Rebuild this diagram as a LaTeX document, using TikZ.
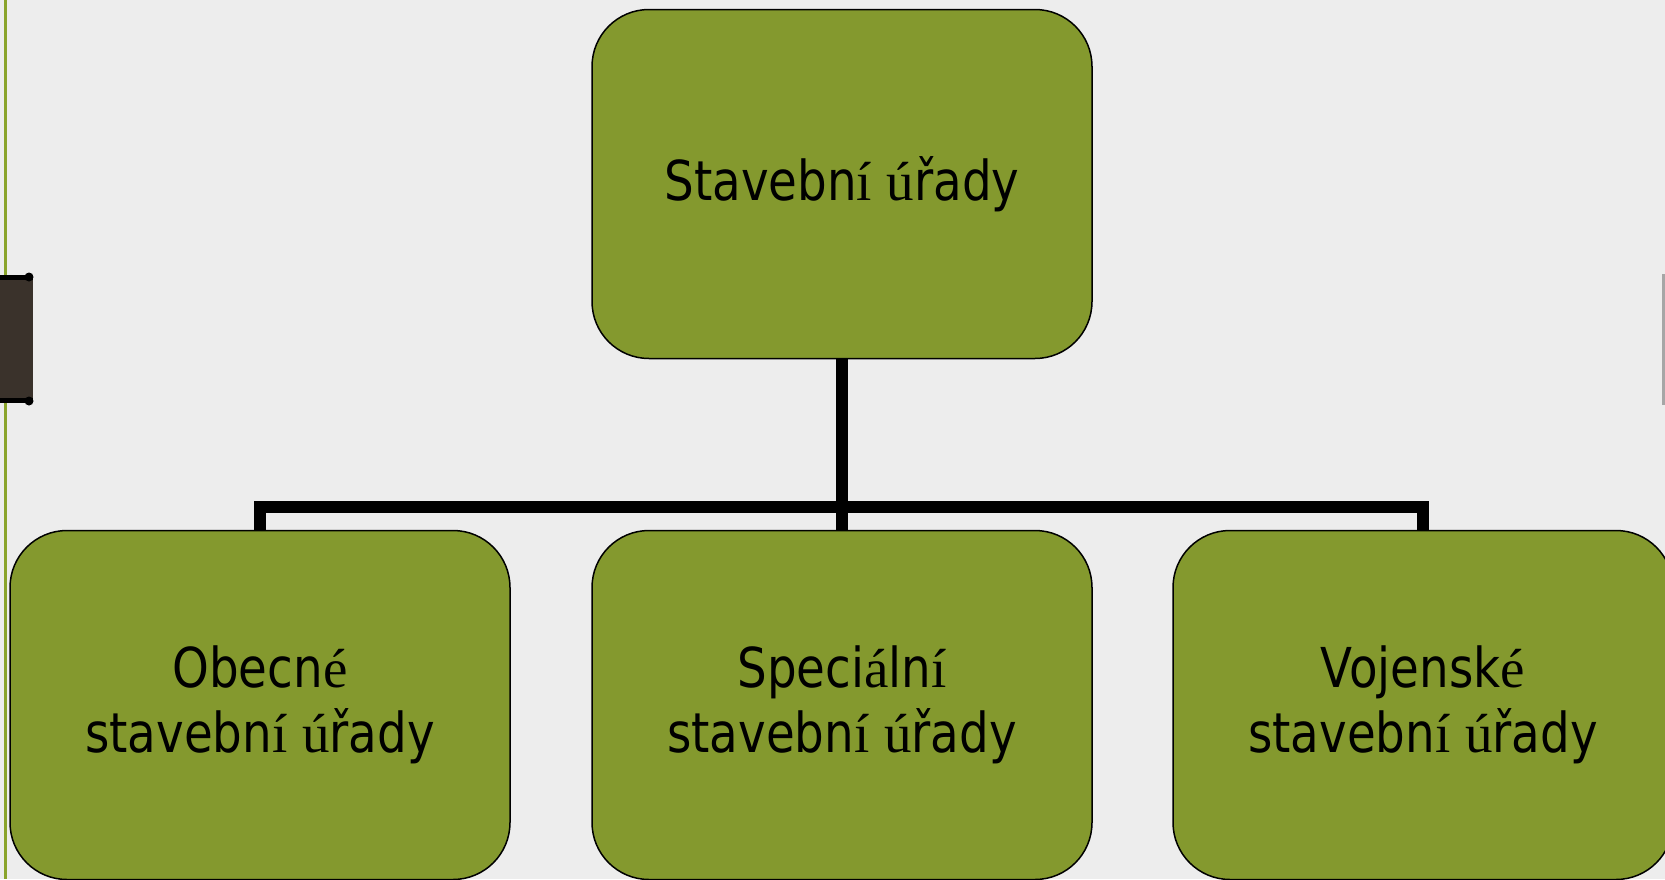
\documentclass[tikz,border=0pt]{standalone}
\usepackage{fontspec}
\setmainfont{DejaVu Sans}[FakeStretch=0.85]
\newfontfamily\accfont{Liberation Serif}
\newcommand\ac[1]{{\accfont #1}}
\definecolor{boxgreen}{RGB}{132,153,46}
\definecolor{bggray}{RGB}{237,237,237}
\definecolor{stripegreen}{RGB}{138,164,44}
\definecolor{tabbrown}{RGB}{58,50,43}
\begin{document}
\begin{tikzpicture}[x=1pt,y=-1pt,
  box/.style={draw=black, line width=1.5pt, fill=boxgreen, rounded corners=57pt,
    minimum width=500pt, minimum height=349pt, align=center, inner sep=0pt,
    font=\fontsize{55}{65}\selectfont},
  conn/.style={line width=12pt, draw=black}]
\fill[bggray] (0,0) rectangle (1665,879);
\useasboundingbox (0,0) rectangle (1665,879);
% left decoration
\fill[stripegreen] (4,0) rectangle (7,879);
\fill[tabbrown] (0,275) rectangle (33,403);
\fill[black] (0,275) rectangle (33,280);
\fill[black] (0,398) rectangle (33,403);
\fill[black] (29,277) circle (4.5);
\fill[black] (29,401) circle (4.5);
% right decoration
\fill[gray!70] (1662,274) rectangle (1665,405);
% nodes
\node[box] (top) at (842,184) {Stavebn\ac{í} \ac{ú}řady};
\node[box] (ob) at (260,705) {Obecn\ac{é}\\stavebn\ac{í} \ac{ú}řady};
\node[box] (sp) at (842,705) {Speci\ac{á}ln\ac{í}\\stavebn\ac{í} \ac{ú}řady};
\node[box] (vo) at (1423,705) {Vojensk\ac{é}\\stavebn\ac{í} \ac{ú}řady};
% connectors
\draw[conn] (top.south) -- (sp.north);
\draw[conn] (ob.north) -- ++(0,-23) -| (vo.north);
\end{tikzpicture}
\end{document}
